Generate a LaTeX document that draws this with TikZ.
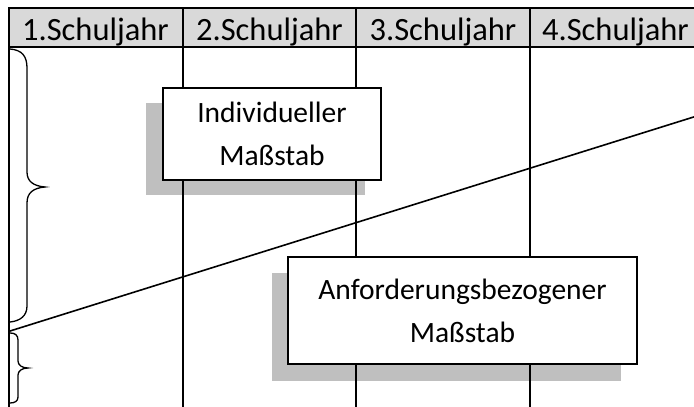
\documentclass[tikz,border=0pt]{standalone}
\usepackage{fontspec}
\setmainfont{Carlito}
\definecolor{headgray}{HTML}{D9D9D9}
\definecolor{shadowgray}{HTML}{BFBFBF}
\begin{document}
\begin{tikzpicture}[x=1pt,y=-1pt,
  gridline/.style={line width=1.9pt,black},
  bracestyle/.style={line width=1.3pt,black},
  headtext/.style={font=\fontsize{32.5}{38}\selectfont,inner sep=0pt,anchor=base},
  mbox/.style={draw=black,line width=1.7pt,fill=white,align=center,inner sep=0pt,
    font=\fontsize{29.5}{43}\selectfont},
  shadowbox/.style={fill=shadowgray,draw=none}]
\useasboundingbox (0,0) rectangle (694,407);
\begin{scope}
\clip (0,0) rectangle (694,407);
% header fill
\fill[headgray] (9,8) rectangle (704,47);
% shadows
\fill[shadowbox] (146,103) rectangle (365,195);
\fill[shadowbox] (272,273) rectangle (621,381);
% grid
\draw[gridline] (9,8) -- (704,8);
\draw[gridline] (9,47) -- (704,47);
\foreach \x in {9,183,356,530}{\draw[gridline] (\x,7.1) -- (\x,410);}
% diagonal
\coordinate (dstart) at (10,331);
\coordinate (dend) at (700,115);
\draw[line width=1.6pt] (dstart) -- (dend);
% big brace
\draw[bracestyle] (10,49) .. controls (22,50) and (27,56) .. (27,68)
  -- (27,172) .. controls (27,181) and (33,186) .. (45,187)
  .. controls (33,188) and (27,193) .. (27,203)
  -- (27,306) .. controls (27,316) and (20,321) .. (10,322);
% small brace
\draw[bracestyle] (10,333) .. controls (15,333) and (18,335) .. (18,340)
  -- (18,361) .. controls (18,365) and (22,368) .. (28,368)
  .. controls (22,368) and (18,371) .. (18,375)
  -- (18,397) .. controls (18,401) and (15,403) .. (10,403);
\end{scope}
% headers
\node[headtext] (h1) at (95.5,40) {1.Schuljahr};
\node[headtext] (h2) at (269.5,40) {2.Schuljahr};
\node[headtext] (h3) at (443,40) {3.Schuljahr};
\node[headtext] (h4) at (615.5,40) {4.Schuljahr};
% boxes
\node[mbox,minimum width=218pt,minimum height=92pt] (ind) at (272,134)
  {Individueller\\Maßstab};
\node[mbox,minimum width=349pt,minimum height=107pt] (anf) at (462.5,310.5)
  {Anforderungsbezogener\\Maßstab};
\end{tikzpicture}
\end{document}
